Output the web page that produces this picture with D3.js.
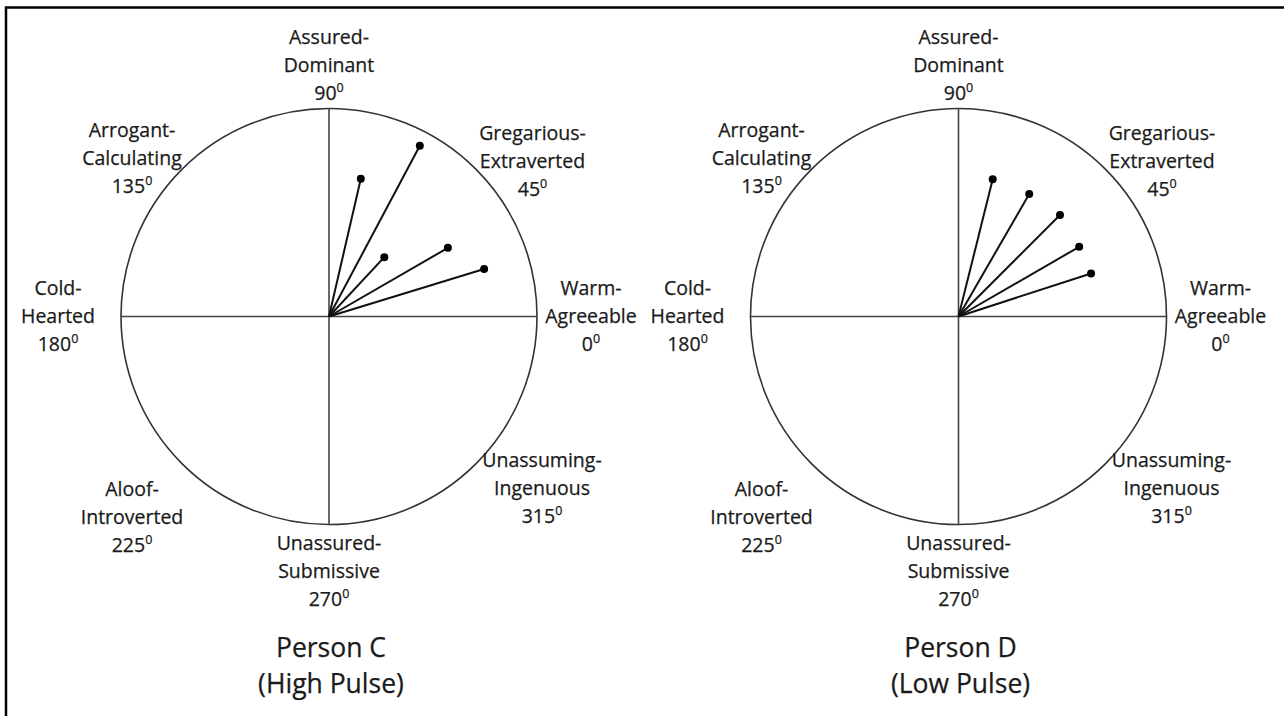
<!DOCTYPE html>
<html>
<head>
<meta charset="utf-8">
<script src="https://d3js.org/d3.v7.min.js"></script>
<style>
  html, body { margin: 0; padding: 0; background: #fff; }
</style>
</head>
<body>
<div id="chart"></div>
<script>
// octant names and angles (degrees, counterclockwise from "Warm-Agreeable")
var octantAngles = [90, 135, 45, 180, 0, 225, 315, 270];
var octantLine1 = ["Assured-", "Arrogant-", "Gregarious-", "Cold-", "Warm-", "Aloof-", "Unassuming-", "Unassured-"];
var octantLine2 = ["Dominant", "Calculating", "Extraverted", "Hearted", "Agreeable", "Introverted", "Ingenuous", "Submissive"];

// people shown
var people = ["Person C", "Person D"];
var conditions = ["(High Pulse)", "(Low Pulse)"];

// vector angles (degrees) and lengths (share of circle radius)
var personCAngles = [77, 62, 47, 30, 17];
var personCLengths = [0.68, 0.93, 0.39, 0.66, 0.78];
var personDAngles = [76, 60, 45, 30, 18];
var personDLengths = [0.68, 0.68, 0.69, 0.67, 0.67];

var width = 1284, height = 716;
var R = 208;
var centersX = [329, 958.5];
var centerY = 316.5;

var svg = d3.select("#chart").append("svg")
    .attr("width", width)
    .attr("height", height);

// frame (left and top edges only)
svg.append("path")
    .attr("d", "M6,716 L6,7.5 L1284,7.5")
    .attr("fill", "none")
    .attr("stroke", "#000")
    .attr("stroke-width", 2.5);

var r = d3.scaleLinear().domain([0, 1]).range([0, R]);
// pointRadial measures from 12 o'clock clockwise
var ang = d3.scaleLinear().domain([0, 360]).range([Math.PI / 2, Math.PI / 2 - 2 * Math.PI]);

// where each octant label sits relative to the centre (middle line baseline)
var labelPlace = {
    90: [0, -244.5], 135: [-197, -151.5], 45: [203.5, -148.5], 180: [-271, 6.5],
    0: [262, 6.5], 225: [-197, 207.5], 315: [213, 178.5], 270: [0, 261.5]
};

var font = "'Open Sans', 'Noto Sans', sans-serif";
var allAngles = [personCAngles, personDAngles];
var allLengths = [personCLengths, personDLengths];

people.forEach(function (p, k) {
    var g = svg.append("g")
        .attr("transform", "translate(" + centersX[k] + "," + centerY + ")");

    g.append("circle")
        .attr("r", r(1))
        .attr("fill", "none")
        .attr("stroke", "#333")
        .attr("stroke-width", 1.6);

    // axes
    [0, 90].forEach(function (a) {
        var p1 = d3.pointRadial(ang(a), r(1)), p2 = d3.pointRadial(ang(a + 180), r(1));
        g.append("line")
            .attr("x1", p1[0]).attr("y1", p1[1])
            .attr("x2", p2[0]).attr("y2", p2[1])
            .attr("stroke", "#444")
            .attr("stroke-width", 1.6);
    });

    var vecs = d3.zip(allAngles[k], allLengths[k]);

    g.selectAll(".vec").data(vecs).enter().append("line")
        .attr("class", "vec")
        .attr("x1", 0).attr("y1", 0)
        .attr("x2", function (d) { return d3.pointRadial(ang(d[0]), r(d[1]))[0]; })
        .attr("y2", function (d) { return d3.pointRadial(ang(d[0]), r(d[1]))[1]; })
        .attr("stroke", "#111")
        .attr("stroke-width", 2);

    g.selectAll(".dot").data(vecs).enter().append("circle")
        .attr("class", "dot")
        .attr("cx", function (d) { return d3.pointRadial(ang(d[0]), r(d[1]))[0]; })
        .attr("cy", function (d) { return d3.pointRadial(ang(d[0]), r(d[1]))[1]; })
        .attr("r", 4)
        .attr("fill", "#000");

    // octant labels
    octantAngles.forEach(function (a, i) {
        var pos = labelPlace[a];
        var t = g.append("text")
            .attr("x", pos[0])
            .attr("y", pos[1])
            .attr("text-anchor", "middle")
            .attr("font-family", font)
            .attr("font-size", "19.5px")
            .attr("fill", "#1a1a1a")
            .attr("stroke", "#1a1a1a")
            .attr("stroke-width", 0.25);
        t.append("tspan").attr("x", pos[0]).attr("dy", -28).text(octantLine1[i]);
        t.append("tspan").attr("x", pos[0]).attr("dy", 28).text(octantLine2[i]);
        var t3 = t.append("tspan").attr("x", pos[0]).attr("dy", 28);
        t3.append("tspan").text(a);
        t3.append("tspan")
            .attr("font-size", "12.5px")
            .attr("dy", -8)
            .text("0");
    });

    // title
    var tt = g.append("text")
        .attr("text-anchor", "middle")
        .attr("font-family", font)
        .attr("font-size", "26.5px")
        .attr("fill", "#1a1a1a")
        .attr("stroke", "#1a1a1a")
        .attr("stroke-width", 0.25);
    tt.append("tspan").attr("x", 2).attr("y", 340.5).text(p);
    tt.append("tspan").attr("x", 2).attr("y", 376.5).text(conditions[k]);
});
</script>
</body>
</html>
